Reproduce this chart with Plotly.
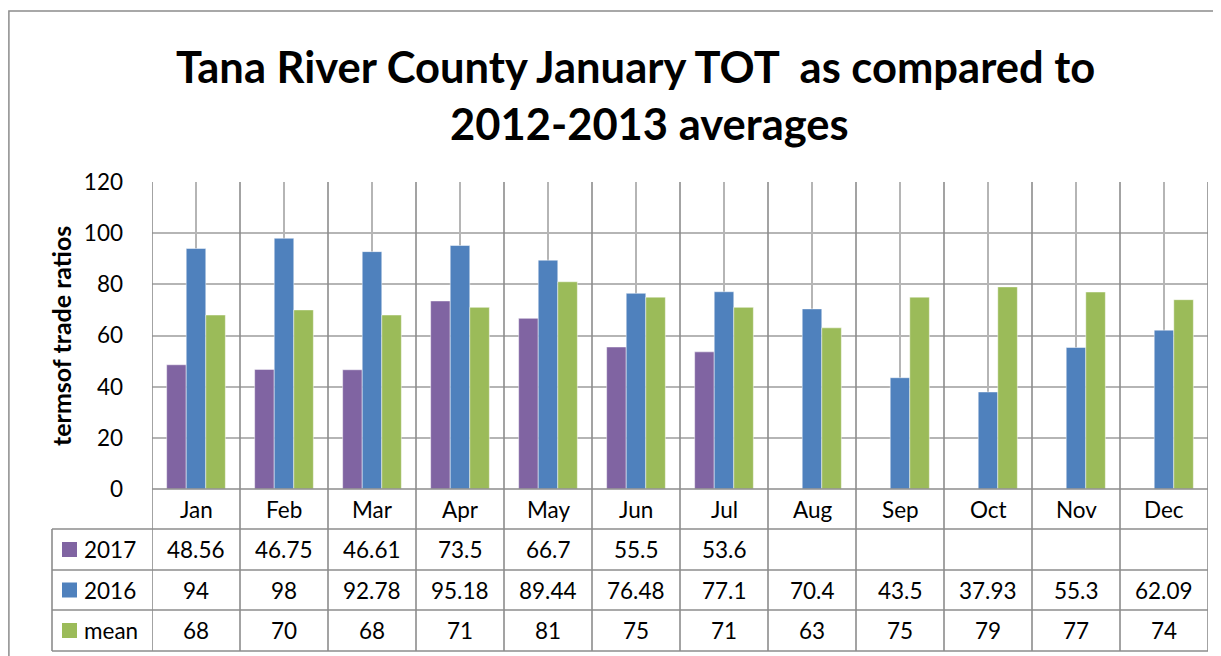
import plotly.graph_objects as go

months = ["Jan", "Feb", "Mar", "Apr", "May", "Jun", "Jul", "Aug", "Sep", "Oct", "Nov", "Dec"]
series_names = ["2017", "2016", "mean"]
v2017 = [48.56, 46.75, 46.61, 73.5, 66.7, 55.5, 53.6, None, None, None, None, None]
v2016 = [94, 98, 92.78, 95.18, 89.44, 76.48, 77.1, 70.4, 43.5, 37.93, 55.3, 62.09]
vmean = [68, 70, 68, 71, 81, 75, 71, 63, 75, 79, 77, 74]
colors = ["#8064A2", "#4F81BD", "#9BBB59"]
title_lines = ["Tana River County January TOT&nbsp; as compared to", "2012-2013 averages"]
y_title = "termsof trade ratios"

OFF = 8  # page body margin
W, H = 1221 - OFF, 656 - OFF
# plot area in screen pixels
L, R, T, B = 152, 1208, 182, 489
PH = B - T
n = len(months)
CW = (R - L) / n

def py(y):
    return (B - y) / PH

def px(x):
    return (x - L) / (R - L)

FONT = "Lato"
FS = 22.5
LINE = "#8C8C8C"
GRID = "#B5B5B5"

fig = go.Figure()
xs = list(range(n))
for name, vals, c in zip(series_names, [v2017, v2016, vmean], colors):
    fig.add_trace(go.Bar(x=xs, y=vals, name=name,
                         marker=dict(color=c, line=dict(color="rgba(255,255,255,0.6)", width=0.8)),
                         showlegend=False))

shapes = []
annotations = []

row_edges = [529, 570, 610, 651]
for y in row_edges:
    shapes.append(dict(type="line", xref="paper", yref="paper", x0=px(52), x1=1, y0=py(y), y1=py(y),
                       line=dict(color=LINE, width=1.6)))
for k in range(n + 1):
    shapes.append(dict(type="line", xref="x", yref="paper", x0=k - 0.5, x1=k - 0.5, y0=1, y1=py(651),
                       line=dict(color=LINE, width=1.6)))
shapes.append(dict(type="line", xref="paper", yref="paper", x0=px(52), x1=px(52), y0=py(529), y1=py(651),
                   line=dict(color=LINE, width=1.6)))
shapes.append(dict(type="line", xref="paper", yref="paper", x0=0, x1=1, y0=0, y1=0,
                   line=dict(color=LINE, width=1.6)))
# outer chart border
shapes.append(dict(type="rect", xref="paper", yref="paper", x0=px(8.9), x1=px(1260), y0=py(11), y1=py(720),
                   line=dict(color=LINE, width=1.5), fillcolor="rgba(0,0,0,0)", layer="above"))

for i, m in enumerate(months):
    annotations.append(dict(x=i, y=py(509), xref="x", yref="paper", text=m, showarrow=False,
                            font=dict(family=FONT, size=FS, color="#000"), xanchor="center", yanchor="middle"))

def fmt(v):
    return "" if v is None else "%g" % v

row_centers = [(row_edges[j] + row_edges[j + 1]) / 2 for j in range(3)]
for j, (name, vals, c) in enumerate(zip(series_names, [v2017, v2016, vmean], colors)):
    yc = py(row_centers[j])
    for i, v in enumerate(vals):
        t = fmt(v)
        if t:
            annotations.append(dict(x=i, y=yc, xref="x", yref="paper", text=t, showarrow=False,
                                    font=dict(family=FONT, size=FS, color="#000"),
                                    xanchor="center", yanchor="middle"))
    shapes.append(dict(type="rect", xref="paper", yref="paper", x0=px(62), x1=px(77),
                       y0=py(row_centers[j] + 7.5), y1=py(row_centers[j] - 7.5), fillcolor=c, line=dict(width=0)))
    annotations.append(dict(x=px(82), y=yc, xref="paper", yref="paper", text=name, showarrow=False,
                            font=dict(family=FONT, size=FS, color="#000"), xanchor="left", yanchor="middle"))

annotations.append(dict(x=px(61), y=py(336), xref="paper", yref="paper", text="<b>" + y_title + "</b>",
                        textangle=-90, showarrow=False, font=dict(family=FONT, size=25, color="#000"),
                        xanchor="center", yanchor="middle"))

# title lines (centres in screen pixels)
for txt, xc, yc in zip(title_lines, [635, 649], [66, 123]):
    annotations.append(dict(x=px(xc), y=py(yc), xref="paper", yref="paper", text="<b>" + txt + "</b>",
                            showarrow=False, font=dict(family=FONT, size=43.5, color="#000"),
                            xanchor="center", yanchor="middle"))

fig.update_layout(
    width=W, height=H,
    margin=dict(l=L - OFF, r=W - (R - OFF), t=T - OFF, b=H - (B - OFF), pad=0),
    paper_bgcolor="white", plot_bgcolor="white",
    barmode="group", bargap=0.333, bargroupgap=0,
    xaxis=dict(range=[-0.5, n - 0.5], tickvals=xs, showticklabels=False, showgrid=True, gridcolor=GRID,
               gridwidth=1.6, zeroline=False, showline=False, ticks=""),
    yaxis=dict(range=[0, 120], dtick=20, showgrid=True, gridcolor=GRID, gridwidth=1.6, zeroline=False,
               showline=False, ticks="", ticklabelstandoff=28,
               tickfont=dict(family=FONT, size=FS, color="#000")),
    shapes=shapes, annotations=annotations,
)

fig.write_html("out.html")
